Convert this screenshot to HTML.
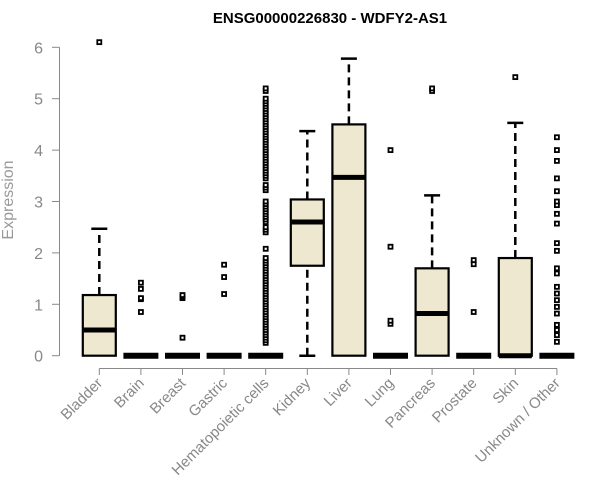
<!DOCTYPE html>
<html><head><meta charset="utf-8"><style>
body{margin:0;background:#fff;}
svg{display:block;font-family:"Liberation Sans",Arial,sans-serif;}
</style></head><body>
<svg id="chart" width="600" height="500">
<text x="330" y="23" text-anchor="middle" font-weight="bold" font-size="15">ENSG00000226830 - WDFY2-AS1</text>
<text transform="translate(13,200) rotate(-90)" text-anchor="middle" font-size="16" fill="#999">Expression</text>
<g id="axes"></g><g id="plot"></g>
</svg>
<script>
const categories=["Bladder","Brain","Breast","Gastric","Hematopoietic cells","Kidney","Liver","Lung","Pancreas","Prostate","Skin","Unknown / Other"];
const lowWhisker=[0,0,0,0,0,0,0,0,0,0,0,0];
const q1=[0,0,0,0,0,1.75,0,0,0,0,0,0];
const median=[0.5,0,0,0,0,2.6,3.47,0,0.82,0,0,0];
const q3=[1.18,0,0,0,0,3.04,4.5,0,1.7,0,1.9,0];
const highWhisker=[2.47,0,0,0,0,4.37,5.78,0,3.12,0,4.53,0];
const outliers=[
[6.1],
[0.85,1.1,1.12,1.3,1.42],
[0.35,1.12,1.15,1.18],
[1.2,1.53,1.77],
[0.25,0.3,0.35,0.4,0.45,0.5,0.55,0.6,0.65,0.7,0.75,0.8,0.85,0.9,0.95,1.0,1.05,1.1,1.15,1.2,1.25,1.3,1.35,1.4,1.45,1.5,1.55,1.6,1.65,1.7,1.75,1.8,1.85,1.9,2.08,2.4,2.45,2.5,2.6,2.65,2.7,2.75,2.8,2.85,2.9,2.95,3.0,3.22,3.27,3.32,3.45,3.5,3.55,3.6,3.65,3.7,3.75,3.8,3.85,3.9,3.95,4.0,4.05,4.1,4.15,4.2,4.25,4.3,4.35,4.4,4.45,4.5,4.55,4.6,4.65,4.7,4.75,4.8,4.85,4.9,4.95,5.0,5.15,5.2],
[],
[],
[0.62,0.68,2.12,4.0],
[5.15,5.2],
[0.85,1.78,1.86],
[5.42],
[0.27,0.4,0.5,0.6,0.82,0.95,1.08,1.21,1.34,1.6,1.7,2.04,2.19,2.57,2.76,2.93,3.0,3.2,3.45,3.79,4.0,4.25]
];
const yTicks=[0,1,2,3,4,5,6];
const NS="http://www.w3.org/2000/svg";
const y=v=>355.7-v*51.4;
const x=i=>99.3+i*41.6;
const BW=33;
function mk(tag,attrs,parent){const e=document.createElementNS(NS,tag);for(const k in attrs)e.setAttribute(k,attrs[k]);parent.appendChild(e);return e;}
const axes=document.getElementById('axes'),plot=document.getElementById('plot');
let l=mk('line',{x1:59.5,x2:59.5,y1:y(0),y2:y(6),stroke:'#888'},axes);


yTicks.forEach(t=>{
 const tk=mk('line',{x1:52,x2:59.5,y1:y(t),y2:y(t),stroke:'#888'},axes);
 
 
 const tx=mk('text',{x:43,y:y(t)+6,'text-anchor':'end','font-size':16,fill:'#888'},axes);
 tx.textContent=t;
 
 
});
l=mk('line',{x1:x(0),x2:x(11),y1:368.5,y2:368.5,stroke:'#888'},axes);


categories.forEach((c,i)=>{
 const cx=x(i);
 const tk=mk('line',{x1:cx,x2:cx,y1:368.5,y2:375,stroke:'#888'},axes);
 
 
 const tx=mk('text',{x:cx+4,y:384,'text-anchor':'end','font-size':15,fill:'#888',transform:`rotate(-45 ${cx+4} 384)`},axes);
 tx.textContent=c;
 
 
 const g=mk('g',{},plot);
 
 
 if(highWhisker[i]>q3[i]){
  mk('line',{x1:cx,x2:cx,y1:y(q3[i]),y2:y(highWhisker[i]),stroke:'#000','stroke-width':2.5,'stroke-dasharray':'8 5'},g);
  mk('line',{x1:cx-8,x2:cx+8,y1:y(highWhisker[i]),y2:y(highWhisker[i]),stroke:'#000','stroke-width':2.5},g);
 }
 if(q1[i]>lowWhisker[i]){
  mk('line',{x1:cx,x2:cx,y1:y(lowWhisker[i]),y2:y(q1[i]),stroke:'#000','stroke-width':2.5,'stroke-dasharray':'8 5'},g);
  mk('line',{x1:cx-8,x2:cx+8,y1:y(lowWhisker[i]),y2:y(lowWhisker[i]),stroke:'#000','stroke-width':2.5},g);
 }
 if(q3[i]>q1[i]){
  mk('rect',{x:cx-BW/2,y:y(q3[i]),width:BW,height:y(q1[i])-y(q3[i]),fill:'#ede8cf',stroke:'#000','stroke-width':2.2},g);
 }
 const flat=q3[i]===q1[i];
 mk('line',{x1:cx-BW/2-(flat?1:0),x2:cx+BW/2+(flat?1:0),y1:y(median[i]),y2:y(median[i]),stroke:'#000','stroke-width':flat?6:5},g);
 outliers[i].forEach(v=>{
  const p=mk('rect',{x:cx-2,y:y(v)-2,width:4,height:4,fill:'#fff',stroke:'#000','stroke-width':1.8},g);
  
  
 });
});
</script>
</body></html>
